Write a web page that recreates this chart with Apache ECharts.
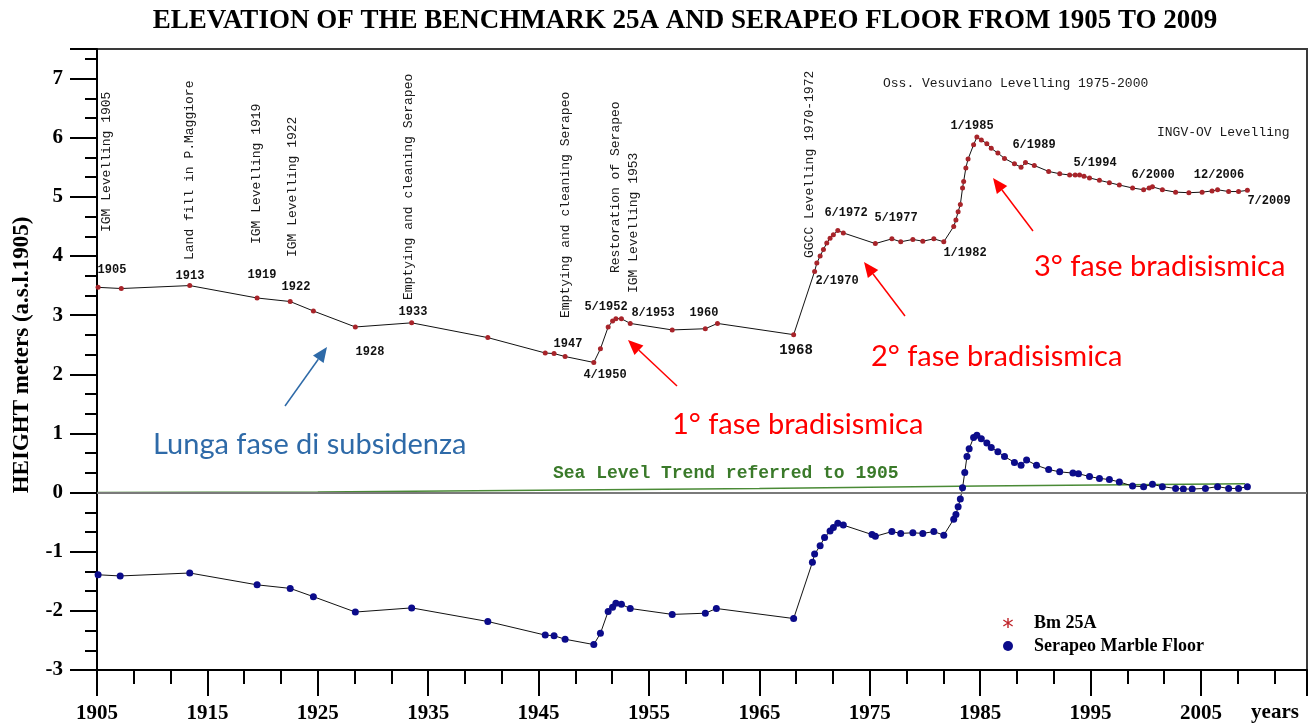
<!DOCTYPE html>
<html>
<head>
<meta charset="utf-8">
<script src="https://cdn.jsdelivr.net/npm/echarts@6/dist/echarts.min.js"></script>
<style>html,body{margin:0;padding:0;background:#fff}#c{width:1310px;height:726px}</style>
</head>
<body>
<div id="c"></div>
<script>
// ---- data ----
const bmYear = [1905.1,1907.2,1913.4,1919.5,1922.5,1924.6,1928.4,1933.5,1940.4,1945.6,1946.4,1947.4,1950.0,1950.6,1951.3,1951.7,1952.0,1952.5,1953.3,1957.1,1960.1,1961.2,1968.1,1970.0,1970.2,1970.5,1970.8,1971.1,1971.4,1971.7,1972.1,1972.6,1975.5,1977.0,1977.8,1978.9,1979.8,1980.8,1981.7,1982.6,1982.8,1983.0,1983.2,1983.4,1983.5,1983.7,1983.9,1984.4,1984.7,1985.1,1985.6,1986.0,1986.6,1987.2,1988.1,1988.7,1989.1,1989.9,1991.2,1992.2,1993.1,1993.6,1994.0,1994.4,1994.9,1995.8,1996.7,1997.6,1998.8,1999.8,2000.3,2000.6,2001.5,2002.7,2003.9,2005.1,2006.0,2006.5,2007.5,2008.4,2009.2];
const bmHeight = [3.47,3.45,3.50,3.29,3.23,3.07,2.80,2.87,2.62,2.36,2.35,2.30,2.20,2.43,2.80,2.90,2.94,2.94,2.86,2.75,2.77,2.86,2.67,3.74,3.88,4.00,4.11,4.22,4.30,4.36,4.43,4.39,4.21,4.29,4.24,4.28,4.25,4.29,4.24,4.50,4.61,4.75,4.87,5.15,5.26,5.49,5.64,5.88,6.01,5.96,5.90,5.82,5.74,5.65,5.56,5.50,5.58,5.53,5.43,5.39,5.37,5.37,5.37,5.35,5.32,5.28,5.24,5.20,5.15,5.12,5.15,5.17,5.12,5.08,5.07,5.08,5.10,5.12,5.09,5.09,5.11];
const serYear = [1905.1,1907.1,1913.4,1919.5,1922.5,1924.6,1928.4,1933.5,1940.4,1945.6,1946.4,1947.4,1950.0,1950.6,1951.3,1951.7,1952.0,1952.5,1953.3,1957.1,1960.1,1961.1,1968.1,1969.8,1970.0,1970.5,1970.9,1971.4,1971.7,1972.1,1972.6,1975.2,1975.5,1977.0,1977.8,1978.9,1979.8,1980.8,1981.7,1982.6,1982.8,1983.0,1983.2,1983.4,1983.6,1983.8,1984.0,1984.4,1984.7,1985.1,1985.6,1986.0,1986.6,1987.2,1988.1,1988.7,1989.2,1990.1,1991.2,1992.2,1993.4,1993.9,1994.9,1995.8,1996.7,1997.6,1998.8,1999.8,2000.6,2001.5,2002.7,2003.4,2004.2,2005.4,2006.5,2007.5,2008.4,2009.2];
const serHeight = [-1.39,-1.41,-1.36,-1.56,-1.62,-1.76,-2.02,-1.95,-2.18,-2.41,-2.42,-2.48,-2.57,-2.38,-2.01,-1.94,-1.87,-1.89,-1.96,-2.06,-2.04,-1.96,-2.13,-1.18,-1.04,-0.90,-0.76,-0.65,-0.59,-0.52,-0.55,-0.71,-0.74,-0.66,-0.69,-0.68,-0.69,-0.66,-0.72,-0.45,-0.37,-0.24,-0.11,0.08,0.34,0.61,0.74,0.93,0.97,0.91,0.84,0.76,0.69,0.61,0.51,0.46,0.55,0.46,0.39,0.35,0.33,0.32,0.27,0.24,0.22,0.18,0.11,0.10,0.14,0.10,0.07,0.06,0.06,0.07,0.10,0.07,0.07,0.10];
const seaYear = [1905,1925,1945,1965,1985,2009];
const seaHeight = [0,0.01,0.04,0.07,0.11,0.15];
const xLabelYears = [1905,1915,1925,1935,1945,1955,1965,1975,1985,1995,2005];
const yLabelValues = [-3,-2,-1,0,1,2,3,4,5,6,7];

const zip = (a, b) => a.map((v, i) => [v, b[i]]);

const MONO = '"Liberation Mono", "DejaVu Sans Mono", monospace';
const SERIF = '"Liberation Serif", "DejaVu Serif", serif';
const SANS = 'Lato, "Open Sans", sans-serif';

const verticalNotes = [
  ['IGM Levelling 1905', 107, 232],
  ['Land fill in P.Maggiore', 190, 260],
  ['IGM Levelling 1919', 257, 244],
  ['IGM Levelling 1922', 293, 257],
  ['Emptying and cleaning Serapeo', 409, 300],
  ['Emptying and cleaning Serapeo', 566, 318],
  ['Restoration of Serapeo', 616, 273],
  ['IGM Levelling 1953', 634, 293],
  ['GGCC Levelling 1970-1972', 810, 258]
];
const dateNotes = [
  ['1905',112,270],['1913',190,276],['1919',262,275],['1922',296,287],['1928',370,352],['1933',413,312],
  ['1947',568,344],['4/1950',605,375],['5/1952',606,307],['8/1953',653,313],['1960',704,313],['1968',796,350],
  ['2/1970',837,281],['6/1972',846,213],['5/1977',896,218],['1/1982',965,253],['1/1985',972,126],
  ['6/1989',1034,145],['5/1994',1095,163],['6/2000',1153,175],['12/2006',1219,175],['7/2009',1269,201]
];

const graphics = [];
verticalNotes.forEach(([t, x, y]) => graphics.push({
  type: 'text', x: x, y: y, rotation: Math.PI / 2, silent: true,
  style: { text: t, font: '13px ' + MONO, fill: '#1a1a1a', align: 'left', verticalAlign: 'middle' }
}));
dateNotes.forEach(([t, x, y]) => graphics.push({
  type: 'text', x: x, y: y, silent: true,
  style: { text: t, font: 'bold ' + (t === '1968' ? 14 : 12) + 'px ' + MONO, fill: '#111', align: 'center', verticalAlign: 'middle' }
}));
graphics.push(
  { type: 'text', x: 883, y: 84, silent: true, style: { text: 'Oss. Vesuviano Levelling 1975-2000', font: '13px ' + MONO, fill: '#1a1a1a', verticalAlign: 'middle' } },
  { type: 'text', x: 1157, y: 133, silent: true, style: { text: 'INGV-OV Levelling', font: '13px ' + MONO, fill: '#1a1a1a', verticalAlign: 'middle' } },
  { type: 'text', x: 553, y: 473, silent: true, style: { text: 'Sea Level Trend referred to 1905', font: 'bold 18px ' + MONO, fill: '#3a7a2a', verticalAlign: 'middle' } },
  { type: 'text', x: 685, y: 21, silent: true, style: { text: 'ELEVATION OF THE BENCHMARK 25A AND SERAPEO FLOOR FROM 1905 TO 2009', font: 'bold 27px ' + SERIF, fill: '#000', align: 'center', verticalAlign: 'middle' } },
  { type: 'text', x: 22, y: 355, rotation: Math.PI / 2, silent: true, style: { text: 'HEIGHT meters (a.s.l.1905)', font: 'bold 23px ' + SERIF, fill: '#000', align: 'center', verticalAlign: 'middle' } },
  { type: 'text', x: 1275, y: 713, silent: true, style: { text: 'years', font: 'bold 21px ' + SERIF, fill: '#000', align: 'center', verticalAlign: 'middle' } },
  { type: 'text', x: 672, y: 425, silent: true, style: { text: '1° fase bradisismica', font: '29px ' + SANS, fill: '#f00', verticalAlign: 'middle' } },
  { type: 'text', x: 871, y: 357, silent: true, style: { text: '2° fase bradisismica', font: '29px ' + SANS, fill: '#f00', verticalAlign: 'middle' } },
  { type: 'text', x: 1034, y: 267, silent: true, style: { text: '3° fase bradisismica', font: '29px ' + SANS, fill: '#f00', verticalAlign: 'middle' } },
  { type: 'text', x: 153, y: 445, silent: true, style: { text: 'Lunga fase di subsidenza', font: '29px ' + SANS, fill: '#2e6aa8', verticalAlign: 'middle' } }
);
function arrow(x1, y1, x2, y2, color) {
  const a = Math.atan2(y2 - y1, x2 - x1), L = 15, W = 6.5;
  const bx = x2 - L * Math.cos(a), by = y2 - L * Math.sin(a);
  const px = -Math.sin(a) * W, py = Math.cos(a) * W;
  graphics.push({ type: 'line', silent: true, shape: { x1: x1, y1: y1, x2: bx, y2: by }, style: { stroke: color, lineWidth: 1.5 } });
  graphics.push({ type: 'polygon', silent: true, shape: { points: [[x2, y2], [bx + px, by + py], [bx - px, by - py]] }, style: { fill: color } });
}
arrow(285, 406, 327, 347, '#2e6aa8');
arrow(677, 386, 628, 340, '#f00');
arrow(905, 316, 864, 262, '#f00');
arrow(1033, 231, 993, 178, '#f00');

const asterisk = 'path://M4.3,0H5.7V10H4.3Z M0,2.6L0.7,1.4L10,7.4L9.3,8.6Z M0,7.4L9.3,1.4L10,2.6L0.7,8.6Z';

const chart = echarts.init(document.getElementById('c'), null, { renderer: 'canvas' });
chart.setOption({
  animation: false,
  backgroundColor: '#fff',
  grid: { left: 97, top: 49, width: 1210, height: 621, show: true, borderColor: '#3a3a3a', borderWidth: 2, backgroundColor: 'transparent' },
  xAxis: {
    type: 'value', min: 1905, max: 2014.6, interval: 10, position: 'bottom',
    axisLine: { onZero: false, lineStyle: { color: '#000', width: 2 } },
    axisTick: { length: 26, lineStyle: { color: '#000', width: 2 } },
    minorTick: { show: true, splitNumber: 3, length: 14, lineStyle: { color: '#000', width: 2 } },
    splitLine: { show: false },
    axisLabel: { margin: 33, color: '#000', fontFamily: SERIF, fontWeight: 'bold', fontSize: 21,
      formatter: v => xLabelYears.indexOf(Math.round(v * 100) / 100) >= 0 ? String(v) : '' }
  },
  yAxis: {
    type: 'value', min: -3, max: 7.5, interval: 1,
    axisLine: { onZero: false, lineStyle: { color: '#000', width: 2 } },
    axisTick: { length: 27, lineStyle: { color: '#000', width: 2 } },
    minorTick: { show: true, splitNumber: 3, length: 12, lineStyle: { color: '#000', width: 2 } },
    splitLine: { show: false },
    axisLabel: { margin: 34, color: '#000', fontFamily: SERIF, fontWeight: 'bold', fontSize: 21,
      formatter: v => yLabelValues.indexOf(v) >= 0 ? String(v) : '' }
  },
  legend: {
    orient: 'vertical', left: 998, top: 609, itemWidth: 10, itemHeight: 10, itemGap: 5,
    selectedMode: false,
    textStyle: { fontFamily: SERIF, fontWeight: 'bold', fontSize: 18, color: '#000', padding: [0, 0, 0, 16] },
    data: [
      { name: 'Bm 25A', icon: asterisk, itemStyle: { color: '#c0242a' } },
      { name: 'Serapeo Marble Floor', icon: 'circle', itemStyle: { color: '#0b0b8a' } }
    ]
  },
  graphic: graphics,
  series: [
    {
      name: 'Sea Level Trend', type: 'line', data: zip(seaYear, seaHeight), symbol: 'none', z: 1,
      lineStyle: { color: '#4a8a36', width: 1.5 },
      markLine: { silent: true, symbol: 'none', label: { show: false },
        lineStyle: { color: '#7a7a7a', width: 2, type: 'solid' }, data: [{ yAxis: 0 }] }
    },
    {
      name: 'Bm 25A', type: 'line', data: zip(bmYear, bmHeight), symbol: 'circle', symbolSize: 5, z: 3,
      lineStyle: { color: '#111', width: 1 }, itemStyle: { color: '#a8242a' }
    },
    {
      name: 'Serapeo Marble Floor', type: 'line', data: zip(serYear, serHeight), symbol: 'circle', symbolSize: 7, z: 3,
      lineStyle: { color: '#111', width: 1 }, itemStyle: { color: '#0b0b8a' }
    }
  ]
});
</script>
</body>
</html>
